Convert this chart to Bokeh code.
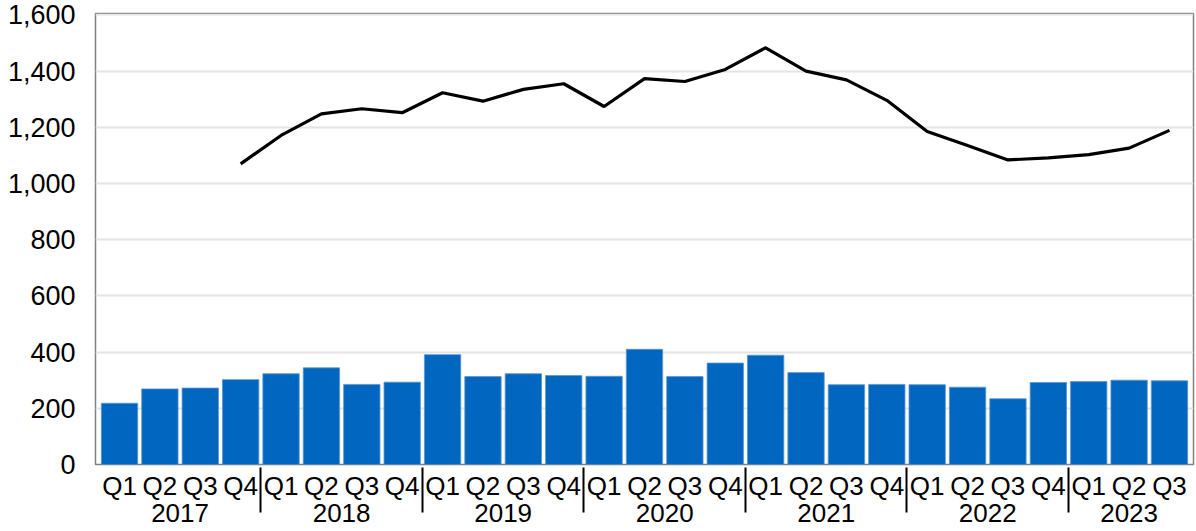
from bokeh.plotting import figure
from bokeh.models import FactorRange, Range1d, NumeralTickFormatter, FixedTicker
from bokeh.embed import file_html
from bokeh.resources import INLINE

years = ["2017"] * 4 + ["2018"] * 4 + ["2019"] * 4 + ["2020"] * 4 + ["2021"] * 4 + ["2022"] * 4 + ["2023"] * 3
quarters = (["Q1", "Q2", "Q3", "Q4"] * 7)[:27]
bar_values = [218, 269, 272, 302, 323, 344, 285, 293,
              391, 313, 323, 317, 314, 410, 313, 361,
              389, 327, 284, 285, 284, 275, 234, 292,
              295, 300, 298]
line_values = [1070, 1171, 1248, 1266, 1252, 1323, 1293, 1335, 1355,
               1274, 1373, 1363, 1406, 1483, 1400, 1369, 1296,
               1185, 1135, 1084, 1091, 1103, 1126, 1189]
line_start = 3
y_ticks = [0, 200, 400, 600, 800, 1000, 1200, 1400, 1600]

FONT = "Liberation Sans"

factors = list(zip(years, quarters))
xr = FactorRange(*factors, group_padding=0, range_padding=0.007)

p = figure(width=1196, height=531, x_range=xr, y_range=Range1d(0, 1605),
           output_backend="svg", toolbar_location=None,
           min_border_left=95, min_border_right=3, min_border_top=13, min_border_bottom=67)

p.vbar(x=factors, top=bar_values, width=0.9, fill_color="#0066BF", line_color="#5b95d0", line_width=0.8)
p.line(x=factors[line_start:], y=line_values, line_color="black", line_width=3.2)

p.outline_line_color = "#808080"
p.outline_line_width = 1.5
p.xgrid.grid_line_color = None
p.ygrid.grid_line_color = "#e4e4e4"
p.ygrid.grid_line_width = 2
p.ygrid.ticker = FixedTicker(ticks=y_ticks)

ya = p.yaxis[0]
ya.ticker = FixedTicker(ticks=y_ticks)
ya.formatter = NumeralTickFormatter(format="0,0")
ya.axis_line_color = None
ya.major_tick_line_color = None
ya.minor_tick_line_color = None
ya.major_label_standoff = 14
ya.major_label_text_font = FONT
ya.major_label_text_font_size = "27px"
ya.major_label_text_color = "black"

xa = p.xaxis[0]
xa.axis_line_color = None
xa.major_tick_line_color = None
xa.minor_tick_line_color = None
xa.major_label_standoff = 0
xa.major_label_text_font = FONT
xa.major_label_text_font_size = "26px"
xa.major_label_text_color = "black"
xa.major_label_text_line_height = 1.0
xa.group_text_font = FONT
xa.group_text_font_size = "26px"
xa.group_text_font_style = "normal"
xa.group_text_color = "black"
xa.group_text_line_height = 1.0
xa.separator_line_color = "black"
xa.separator_line_width = 2

open("out.html", "w").write(file_html(p, INLINE))
